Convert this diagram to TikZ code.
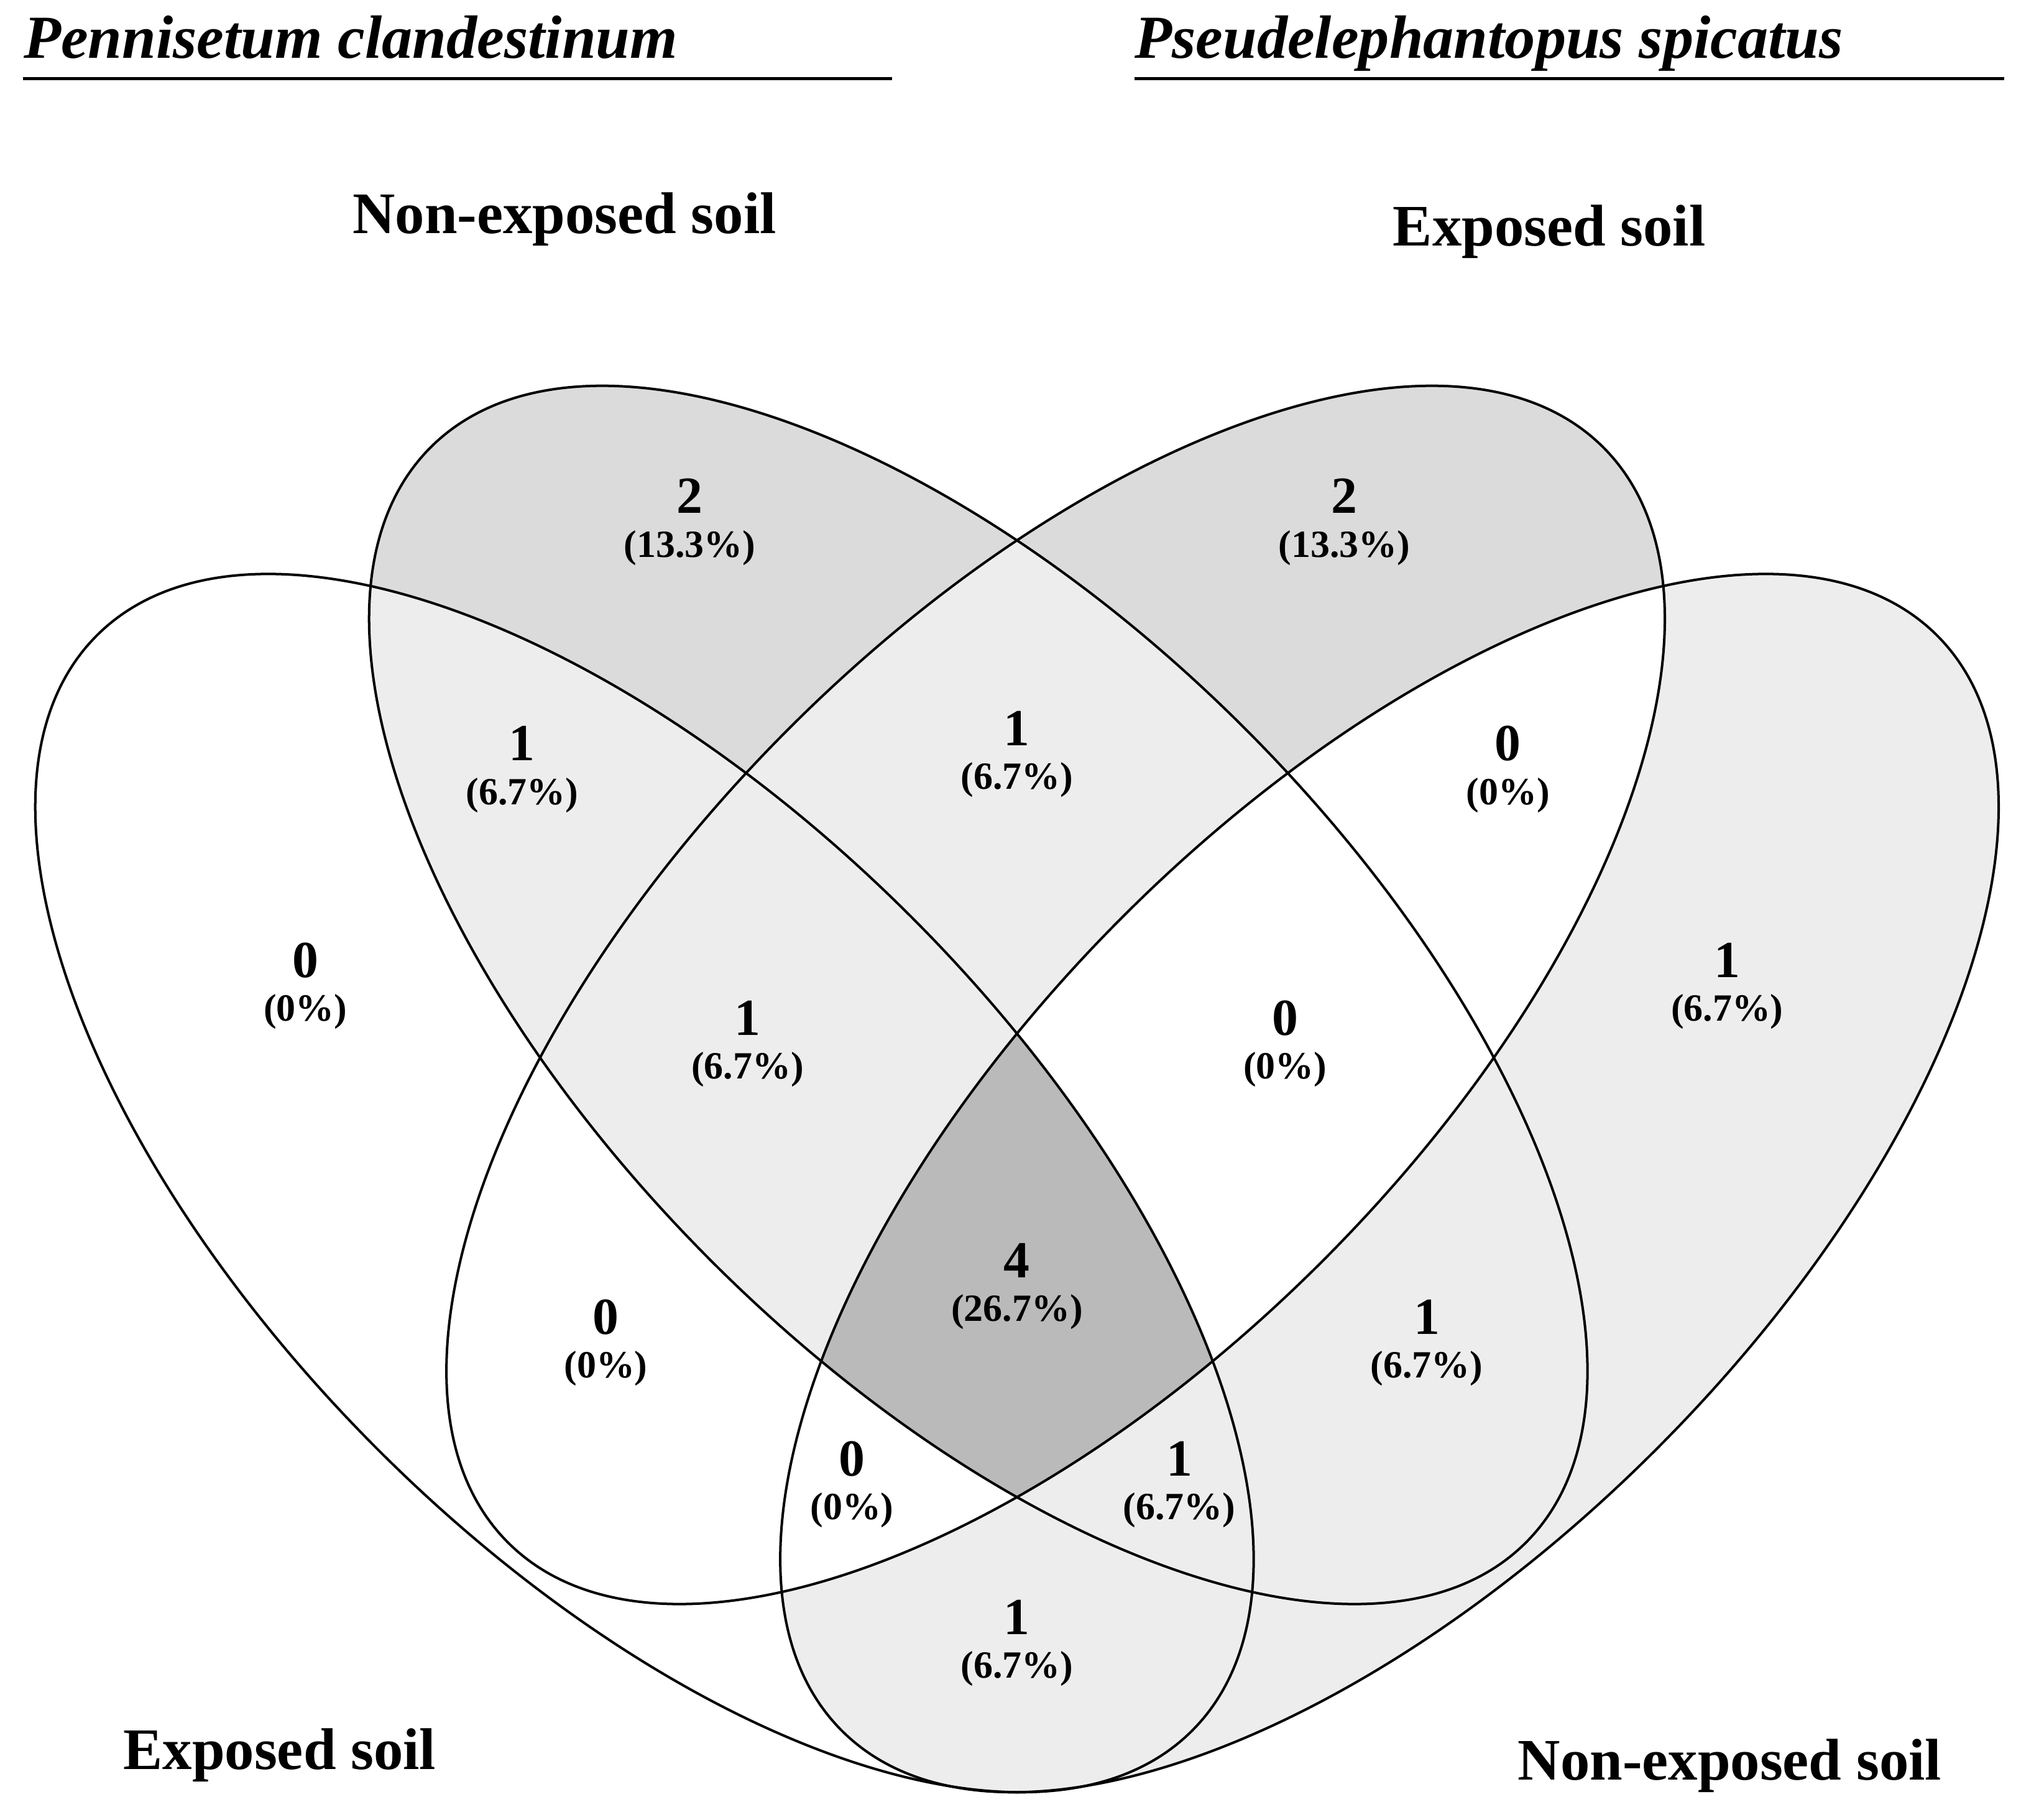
\documentclass[tikz,border=0pt]{standalone}
\usepackage{fontspec}
\setmainfont{Liberation Serif}
\begin{document}
\begin{tikzpicture}[x=0.02cm,y=-0.02cm,
  num/.style={font=\fontsize{23}{23}\selectfont\bfseries, inner sep=0pt},
  pct/.style={font=\fontsize{17}{17}\selectfont\bfseries, inner sep=0pt},
  setlab/.style={font=\fontsize{26}{26}\selectfont\bfseries, inner sep=0pt},
  ttl/.style={font=\fontsize{27}{27}\selectfont\bfseries\itshape, inner sep=0pt, anchor=base west},
  edge/.style={line width=1.1pt},
  ulin/.style={line width=1.3pt}]
\useasboundingbox (0,0) rectangle (1568,1412);
\colorlet{gA}{black!7}
\colorlet{gB}{black!14}
\colorlet{gD}{black!27}
\def\EA{[rotate around={-45:(500,918)}] (500,918) ellipse [x radius=12.02cm, y radius=5.85cm]}
\def\EB{[rotate around={-45:(759,772)}] (759,772) ellipse [x radius=12.02cm, y radius=5.85cm]}
\def\EC{[rotate around={45:(819,772)}] (819,772) ellipse [x radius=12.02cm, y radius=5.85cm]}
\def\ED{[rotate around={45:(1078,918)}] (1078,918) ellipse [x radius=12.02cm, y radius=5.85cm]}
% fills
\fill[gB] \EB;
\fill[gB] \EC;
\fill[gA] \ED;
\begin{scope}\clip \EA; \fill[gA] \ED; \end{scope}
\begin{scope}\clip \EA; \fill[gA] \EB; \end{scope}
\begin{scope}\clip \EB; \fill[gA] \EC; \end{scope}
\begin{scope}\clip \EC; \fill[white] \ED; \end{scope}
\begin{scope}\clip \EA; \fill[white] \EC; \end{scope}
\begin{scope}\clip \EA; \clip \EB; \fill[gA] \EC; \end{scope}
\begin{scope}\clip \EA; \clip \EB; \clip \EC; \fill[gD] \ED; \end{scope}
% outlines
\draw[edge] \EA;
\draw[edge] \EB;
\draw[edge] \EC;
\draw[edge] \ED;
% titles
\node[ttl] (t1) at (18,45) {Pennisetum clandestinum};
\node[ttl] (t2) at (880,45) {Pseudelephantopus spicatus};
\coordinate (u1a) at (18,61); \coordinate (u1b) at (692,61);
\coordinate (u2a) at (880,61); \coordinate (u2b) at (1555,61);
\draw[ulin] (u1a) -- (u1b);
\draw[ulin] (u2a) -- (u2b);
% set labels
\node[setlab] (lB) at (438,170) {Non-exposed soil};
\node[setlab] (lC) at (1202,180) {Exposed soil};
\node[setlab] (lA) at (217,1362) {Exposed soil};
\node[setlab] (lD) at (1342,1370) {Non-exposed soil};
% counts
\foreach \n/\x/\y/\c/\p in {
 rB/535/385/2/13.3\%, rC/1043/385/2/13.3\%, rAB/405/577/1/6.7\%, rBC/789/565/1/6.7\%,
 rCD/1170/577/0/0\%, rA/237/745/0/0\%, rD/1340/745/1/6.7\%, rABC/580/790/1/6.7\%,
 rBCD/997/790/0/0\%, rABCD/789/978/4/26.7\%, rAC/470/1022/0/0\%, rBD/1107/1022/1/6.7\%,
 rACD/661/1132/0/0\%, rABD/915/1132/1/6.7\%, rAD/789/1255/1/6.7\%}{
 \node[num] (\n) at (\x,\y) {\c};
 \node[pct] (\n p) at (\x,\y+40) {(\p)};
}
\end{tikzpicture}
\end{document}
